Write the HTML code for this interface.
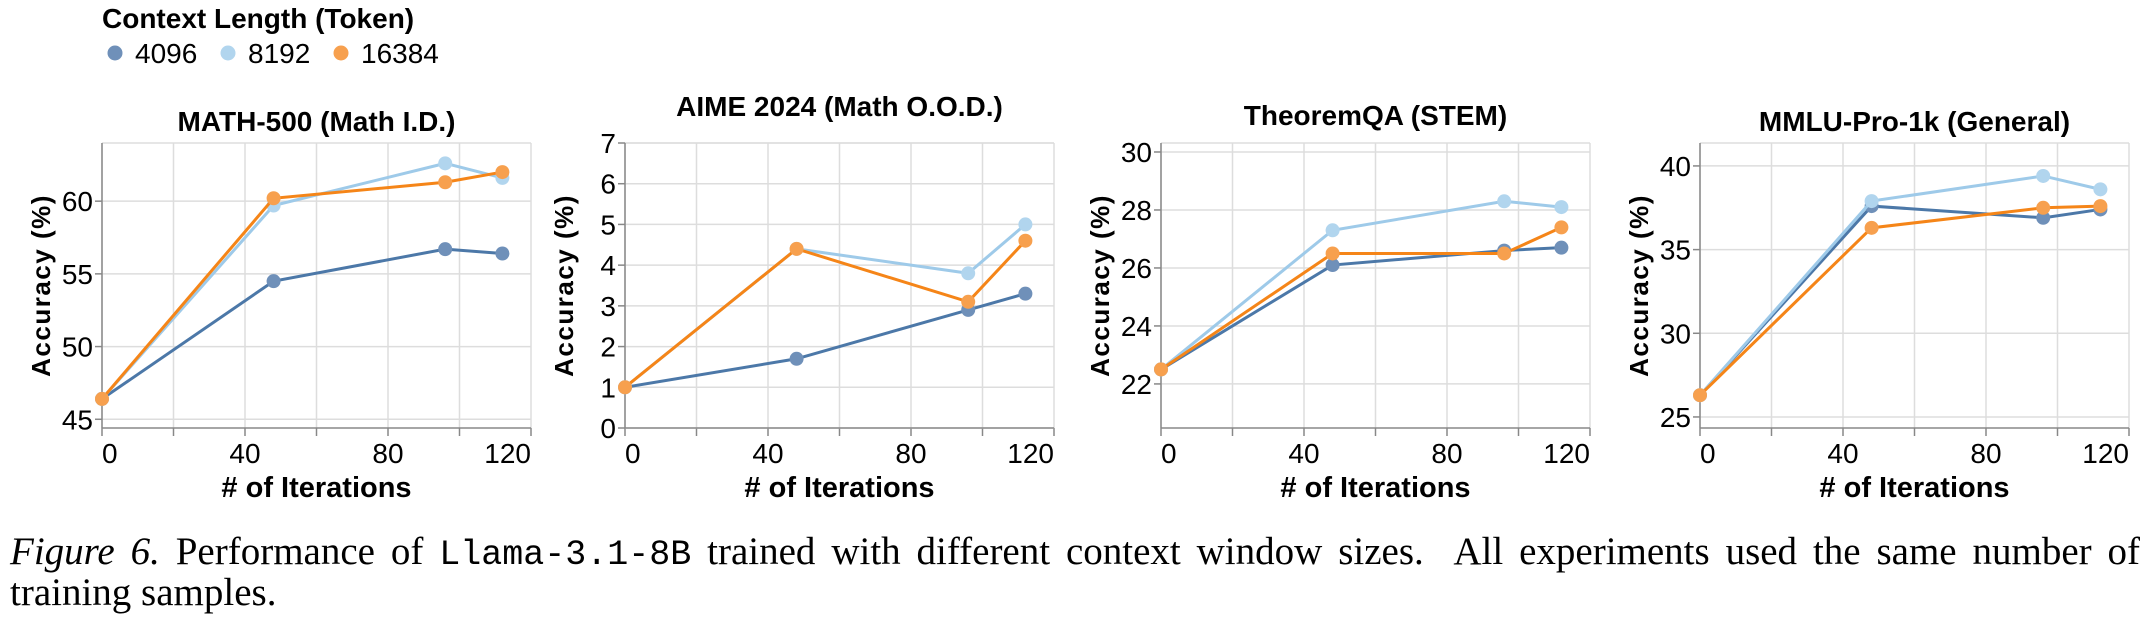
<!DOCTYPE html>
<html><head><meta charset="utf-8"><style>
body{margin:0;background:#fff;width:2146px;height:632px;overflow:hidden;position:relative}
svg{display:block}
.cap{position:absolute;left:10px;top:533px;width:2130px;font-family:"Liberation Serif",serif;font-size:39px;line-height:37px;color:#000}
.l1{display:block;text-align:justify;text-align-last:justify;white-space:nowrap}
.mono{font-family:"Liberation Mono",monospace;font-size:35px}
</style></head><body>
<svg id="chart" width="2146" height="520" font-family="Liberation Sans, sans-serif"></svg>
<div class="cap"><span class="l1"><i>Figure 6.</i> Performance of <span class="mono">Llama-3.1-8B</span> trained with different context window sizes.&nbsp; All experiments used the same number of</span>training samples.</div>
<script>
const iterations=[0,48,96,112];
const seriesNames=["4096","8192","16384"];
const seriesColors=["#4c78a8","#9ecae9","#f58518"];
const pointColors=["#6f90b9","#b1d5ee","#f7a04e"];
const titles=["MATH-500 (Math I.D.)","AIME 2024 (Math O.O.D.)","TheoremQA (STEM)","MMLU-Pro-1k (General)"];
const math4096=[46.4,54.5,56.7,56.4];
const math8192=[46.4,59.7,62.6,61.6];
const math16384=[46.4,60.2,61.3,62.0];
const aime4096=[1.0,1.7,2.9,3.3];
const aime8192=[1.0,4.4,3.8,5.0];
const aime16384=[1.0,4.4,3.1,4.6];
const thm4096=[22.5,26.1,26.6,26.7];
const thm8192=[22.5,27.3,28.3,28.1];
const thm16384=[22.5,26.5,26.5,27.4];
const mmlu4096=[26.3,37.6,36.9,37.4];
const mmlu8192=[26.3,37.9,39.4,38.6];
const mmlu16384=[26.3,36.3,37.5,37.6];
const yDomains=[[44.4,64],[0,7],[20.48,30.31],[24.34,41.37]];
const yTicks=[[45,50,55,60],[0,1,2,3,4,5,6,7],[22,24,26,28,30],[25,30,35,40]];
const xTickLabels=[0,40,80,120];
const panelData=[[math4096,math8192,math16384],[aime4096,aime8192,aime16384],[thm4096,thm8192,thm16384],[mmlu4096,mmlu8192,mmlu16384]];
const panelLeft=[102,625,1161,1700];
const titleY=[131,116,125,131];
const W=429,TOP=143,BOT=428;
const NS="http://www.w3.org/2000/svg";
const svg=document.getElementById('chart');
function mk(t,a,p){const e=document.createElementNS(NS,t);for(const k in a)e.setAttribute(k,a[k]);(p||svg).appendChild(e);return e;}
const lg=mk('g',{});


const lt=mk('text',{x:102,y:28,'font-size':28,'font-weight':'bold',fill:'#000'},lg);lt.textContent='Context Length (Token)';


const lx=[115,228,341];
seriesNames.forEach((n,i)=>{
  const g=mk('g',{},lg);
  
  
  mk('circle',{cx:lx[i],cy:53,r:7.5,fill:pointColors[i]},g);
  const t=mk('text',{x:lx[i]+20,y:63,'font-size':28,fill:'#000'},g);t.textContent=n;
});
titles.forEach((title,p)=>{
  const L=panelLeft[p],R=L+W,[d0,d1]=yDomains[p];
  const xs=v=>L+v/120*W, ys=v=>BOT-(v-d0)/(d1-d0)*(BOT-TOP);
  const g=mk('g',{});
  
  
  const tt=mk('text',{x:L+W/2,y:titleY[p],'font-size':28,'font-weight':'bold','text-anchor':'middle',fill:'#000'},g);tt.textContent=title;
  
  
  for(let v=0;v<=120;v+=20){mk('line',{x1:xs(v),x2:xs(v),y1:TOP,y2:BOT,stroke:'#ddd','stroke-width':1.5},g);
    mk('line',{x1:xs(v),x2:xs(v),y1:BOT,y2:BOT+8,stroke:'#888','stroke-width':1.5},g);}
  mk('line',{x1:L,x2:R,y1:TOP,y2:TOP,stroke:'#ddd','stroke-width':1.5},g);
  yTicks[p].forEach(v=>{const y=ys(v);
    mk('line',{x1:L,x2:R,y1:y,y2:y,stroke:'#ddd','stroke-width':1.5},g);
    mk('line',{x1:L-7,x2:L,y1:y,y2:y,stroke:'#888','stroke-width':1.5},g);
    const t=mk('text',{x:L-9,y:y+10,'font-size':28,'text-anchor':'end',fill:'#000'},g);t.textContent=v;});
  mk('line',{x1:L,x2:L,y1:TOP,y2:BOT,stroke:'#888','stroke-width':1.5},g);
  mk('line',{x1:L,x2:R,y1:BOT,y2:BOT,stroke:'#888','stroke-width':1.5},g);
  xTickLabels.forEach(v=>{const t=mk('text',{x:xs(v),y:463,'font-size':28,'text-anchor':v===0?'start':(v===120?'end':'middle'),fill:'#000'},g);t.textContent=v;});
  const xt=mk('text',{x:L+W/2,y:497,'font-size':29,'font-weight':'bold','text-anchor':'middle',fill:'#000'},g);xt.textContent='# of Iterations';
  
  
  const yt=mk('text',{transform:`translate(${L-52},${(TOP+BOT)/2}) rotate(-90)`,'font-size':26,'font-weight':'bold','text-anchor':'middle','letter-spacing':'1.5',fill:'#000'},g);yt.textContent='Accuracy (%)';
  
  
  panelData[p].forEach((vals,s)=>{
    const pts=vals.map((v,i)=>xs(iterations[i])+','+ys(v)).join(' ');
    const pl=mk('polyline',{points:pts,fill:'none',stroke:seriesColors[s],'stroke-width':3},g);
    
    
    vals.forEach((v,i)=>{const c=mk('circle',{cx:xs(iterations[i]),cy:ys(v),r:7,fill:pointColors[s]},g);
      
      });
  });
});
</script>
</body></html>
